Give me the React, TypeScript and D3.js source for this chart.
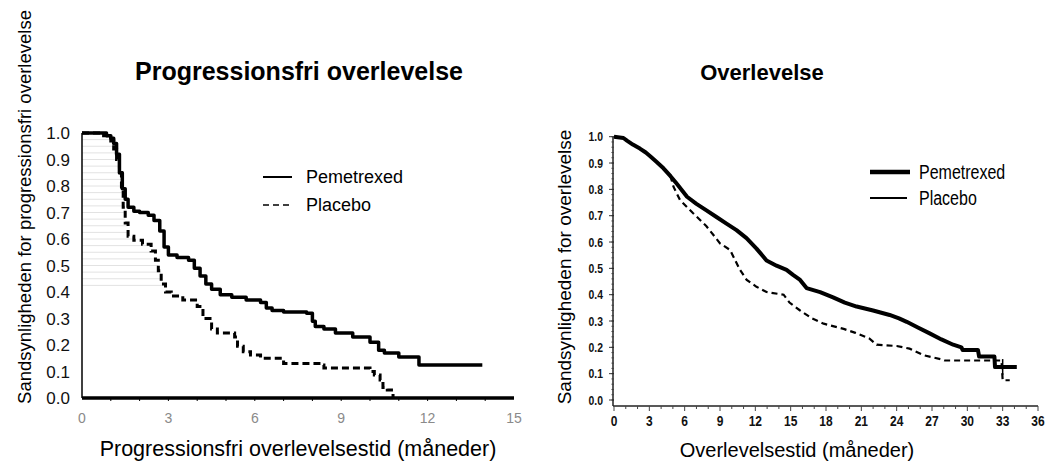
import React from 'react';
import * as d3 from 'd3';

// ---------- Data ----------
const pfsTickMonths = [0, 3, 6, 9, 12, 15];
const osTickMonths = [0, 3, 6, 9, 12, 15, 18, 21, 24, 27, 30, 33, 36];
const probTicks = [0, 0.1, 0.2, 0.3, 0.4, 0.5, 0.6, 0.7, 0.8, 0.9, 1.0];

// Progression-free survival (left panel), Kaplan-Meier steps
const pfsPemTime = [0, 0.85, 1.0, 1.1, 1.2, 1.3, 1.4, 1.5, 1.6, 1.8, 2.0, 2.3, 2.5, 2.7, 2.85, 3.0, 3.3, 3.7, 3.9, 4.1, 4.3, 4.5, 4.8, 5.2, 5.7, 6.2, 6.4, 6.6, 7.0, 7.8, 8.0, 8.1, 8.4, 8.8, 9.4, 10.0, 10.3, 10.5, 11.0, 11.7, 13.9];
const pfsPemSurv = [1.0, 0.99, 0.98, 0.96, 0.92, 0.85, 0.79, 0.75, 0.72, 0.705, 0.70, 0.69, 0.67, 0.63, 0.57, 0.54, 0.53, 0.52, 0.49, 0.46, 0.43, 0.41, 0.39, 0.38, 0.37, 0.36, 0.34, 0.33, 0.325, 0.32, 0.29, 0.27, 0.26, 0.245, 0.23, 0.21, 0.18, 0.17, 0.155, 0.125, 0.125];
const pfsPlaTime = [0, 0.75, 1.0, 1.1, 1.2, 1.3, 1.37, 1.43, 1.5, 1.6, 1.8, 2.1, 2.4, 2.55, 2.65, 2.75, 2.9, 3.1, 3.5, 4.0, 4.2, 4.5, 4.7, 5.3, 5.4, 5.6, 5.85, 6.2, 7.0, 8.3, 8.4, 10.0, 10.15, 10.35, 10.45, 10.6, 10.8];
const pfsPlaSurv = [1.0, 0.99, 0.97, 0.94, 0.90, 0.85, 0.79, 0.72, 0.66, 0.61, 0.595, 0.58, 0.555, 0.52, 0.48, 0.43, 0.40, 0.385, 0.37, 0.345, 0.30, 0.26, 0.245, 0.23, 0.195, 0.175, 0.162, 0.15, 0.13, 0.125, 0.113, 0.10, 0.087, 0.068, 0.04, 0.03, 0.0];

// Overall survival (right panel)
const osPemTime = [0, 0.8, 1.1, 1.6, 2.2, 2.7, 3.1, 3.6, 4.2, 4.8, 5.3, 5.8, 6.2, 7.0, 7.85, 8.7, 9.55, 10.4, 11.25, 12.1, 12.95, 13.8, 14.65, 15.2, 15.8, 16.35, 17.5, 18.6, 19.6, 20.6, 22.0, 23.4, 24.2, 24.85, 25.8, 26.8, 27.8, 28.8, 29.5, 29.6, 30.9, 31.0, 32.3, 32.35, 34.2];
const osPemSurv = [1.0, 0.995, 0.985, 0.97, 0.955, 0.94, 0.925, 0.905, 0.88, 0.85, 0.823, 0.795, 0.772, 0.745, 0.72, 0.695, 0.67, 0.645, 0.615, 0.575, 0.53, 0.51, 0.494, 0.475, 0.456, 0.425, 0.41, 0.39, 0.37, 0.355, 0.34, 0.323, 0.31, 0.297, 0.275, 0.253, 0.23, 0.21, 0.20, 0.19, 0.19, 0.165, 0.165, 0.125, 0.125];
const osPlaTime = [0, 0.8, 1.1, 1.6, 2.2, 2.7, 3.1, 3.6, 4.2, 4.8, 5.05, 5.6, 6.7, 7.85, 9.0, 9.85, 10.7, 11.27, 12.1, 12.95, 14.4, 14.9, 15.8, 16.8, 17.8, 19.5, 20.5, 21.7, 22.3, 24.0, 25.1, 26.3, 28.0, 28.1, 32.9, 33.0, 33.6];
const osPlaSurv = [1.0, 0.995, 0.985, 0.97, 0.955, 0.94, 0.925, 0.905, 0.88, 0.85, 0.81, 0.76, 0.71, 0.66, 0.595, 0.57, 0.494, 0.456, 0.43, 0.41, 0.40, 0.37, 0.34, 0.31, 0.29, 0.27, 0.255, 0.233, 0.21, 0.205, 0.195, 0.17, 0.152, 0.15, 0.15, 0.075, 0.075];
const osCensorMonth = 33.0;
const osCensorSurv = 0.125;

const seriesNames = ['Pemetrexed', 'Placebo'];

const zip = (t: number[], s: number[]) => t.map((v, i) => [v, s[i]] as [number, number]);

const ARIAL = "'Liberation Sans', Arial, Helvetica, sans-serif";
const NARROW_SCALE = 0.8;

export default function App() {
  const W = 1047;
  const H = 462;

  // Left panel scales
  const xL = d3.scaleLinear().domain([0, 15]).range([82, 514]);
  const yL = d3.scaleLinear().domain([0, 1]).range([398, 133]);
  // Right panel scales
  const xR = d3.scaleLinear().domain([0, 36]).range([614, 1038]);
  const yR = d3.scaleLinear().domain([0, 1]).range([400, 136.7]);
  const xAxisR = yR(0) + 6;

  const stepL = d3.line<[number, number]>().x(d => xL(d[0])).y(d => yL(d[1])).curve(d3.curveStepAfter);
  const lineR = d3.line<[number, number]>().x(d => xR(d[0])).y(d => yR(d[1])).curve(d3.curveLinear);

  const pfsPem = zip(pfsPemTime, pfsPemSurv);
  const pfsPla = zip(pfsPlaTime, pfsPlaSurv);
  const osPem = zip(osPemTime, osPemSurv);
  const osPla = zip(osPlaTime, osPlaSurv);

  // faint hatch lines at left panel (artifact of original), up to placebo curve
  const hatchLevels = d3.range(0.425, 1.0, 0.025);
  const hatch = hatchLevels.map(lv => {
    const idx = pfsPla.findIndex(d => d[1] <= lv);
    const t = idx >= 0 ? pfsPla[idx][0] : 0;
    return { lv, x2: xL(t) };
  });

  const monthsMinorL = d3.range(1, 15, 1);
  const monthsMinorR = d3.range(0, 37, 1);
  const probMinor = d3.range(0, 1.0001, 0.02);

  const narrow = (x: number, y: number) => `translate(${x},${y}) scale(${NARROW_SCALE},1)`;

  return (
    <svg width={W} height={H} style={{ position: 'absolute', left: 0, top: 0, background: '#fff' }}>
      <rect x={0} y={0} width={W} height={H} fill="#fff" />

      {/* ================= LEFT PANEL ================= */}
      <text x={299} y={80} textAnchor="middle" fontFamily={ARIAL} fontWeight="bold" fontSize={25} fill="#000">
        Progressionsfri overlevelse
      </text>

      {hatch.map((h, i) => (
        <line key={'h' + i} x1={xL(0)} x2={h.x2} y1={yL(h.lv)} y2={yL(h.lv)} stroke="#e2e2e2" strokeWidth={1} />
      ))}

      {/* y axis */}
      <line x1={xL(0)} x2={xL(0)} y1={yL(1)} y2={yL(0)} stroke="#000" strokeWidth={1.5} />
      {probTicks.map(p => (
        <text key={'yl' + p} x={70} y={yL(p)} dy="0.36em" textAnchor="end" fontFamily={ARIAL} fontSize={17} fill="#111">
          {p.toFixed(1)}
        </text>
      ))}

      {/* x axis */}
      {monthsMinorL.map(m => (
        <line key={'mt' + m} x1={xL(m)} x2={xL(m)} y1={yL(0)} y2={yL(0) + 3} stroke="#000" strokeWidth={1} />
      ))}
      <line x1={xL(0)} x2={xL(15)} y1={yL(0)} y2={yL(0)} stroke="#000" strokeWidth={3.5} />
      {pfsTickMonths.map(m => (
        <text key={'xl' + m} x={xL(m)} y={418} dy="0.36em" textAnchor="middle" fontFamily={ARIAL} fontSize={14} fill="#8a8a8a">
          {m}
        </text>
      ))}

      {/* curves */}
      <path d={stepL(pfsPla) || ''} fill="none" stroke="#000" strokeWidth={3} strokeDasharray="7,4" />
      <path d={stepL(pfsPem) || ''} fill="none" stroke="#000" strokeWidth={3.5} strokeLinejoin="round" />

      {/* legend */}
      <line x1={263} x2={292} y1={177} y2={177} stroke="#000" strokeWidth={2} />
      <text x={306} y={177} dy="0.36em" fontFamily={ARIAL} fontSize={18} fill="#000">{seriesNames[0]}</text>
      <line x1={263} x2={292} y1={205} y2={205} stroke="#000" strokeWidth={1.5} strokeDasharray="6,4" />
      <text x={306} y={205} dy="0.36em" fontFamily={ARIAL} fontSize={18} fill="#000">{seriesNames[1]}</text>

      {/* axis titles */}
      <text transform={`translate(31,${207}) rotate(-90)`} textAnchor="middle" fontFamily={ARIAL} fontSize={18.5} fill="#000">
        Sandsynligheden for progressionsfri overlevelse
      </text>
      <text x={298} y={456} textAnchor="middle" fontFamily={ARIAL} fontSize={21.5} fill="#000">
        Progressionsfri overlevelsestid (måneder)
      </text>

      {/* ================= RIGHT PANEL ================= */}
      <text x={762} y={80} textAnchor="middle" fontFamily={ARIAL} fontWeight="bold" fontSize={22} fill="#000">
        Overlevelse
      </text>

      {/* y axis */}
      {probMinor.map((p, i) => (
        <line key={'pm' + i} x1={xR(0) - 3} x2={xR(0)} y1={yR(p)} y2={yR(p)} stroke="#999" strokeWidth={1} />
      ))}
      {probTicks.map(p => (
        <line key={'pt' + p} x1={xR(0) - 5} x2={xR(0)} y1={yR(p)} y2={yR(p)} stroke="#333" strokeWidth={1} />
      ))}
      <line x1={xR(0) - 1} x2={xR(0) - 1} y1={yR(1)} y2={xAxisR} stroke="#222" strokeWidth={1.5} />
      {probTicks.map(p => (
        <text key={'yr' + p} transform={narrow(603, yR(p))} dy="0.36em" textAnchor="end" fontFamily={ARIAL} fontWeight="bold" fontSize={13} fill="#111">
          {p.toFixed(1)}
        </text>
      ))}

      {/* x axis */}
      <line x1={xR(0) - 1} x2={xR(36)} y1={xAxisR} y2={xAxisR} stroke="#222" strokeWidth={1.5} />
      {monthsMinorR.map(m => (
        <line key={'rm' + m} x1={xR(m)} x2={xR(m)} y1={xAxisR} y2={xAxisR + (m % 3 === 0 ? 5 : 3)} stroke="#444" strokeWidth={1} />
      ))}
      {osTickMonths.map(m => (
        <text key={'xr' + m} transform={narrow(xR(m), 421)} dy="0.36em" textAnchor="middle" fontFamily={ARIAL} fontWeight="bold" fontSize={15} fill="#111">
          {m}
        </text>
      ))}

      {/* curves */}
      <path d={lineR(osPla) || ''} fill="none" stroke="#000" strokeWidth={2.2} strokeDasharray="6,4" />
      <path d={lineR(osPem) || ''} fill="none" stroke="#000" strokeWidth={4} strokeLinejoin="round" />
      <line x1={xR(osCensorMonth)} x2={xR(osCensorMonth)} y1={yR(osCensorSurv) - 8} y2={yR(osCensorSurv) + 8} stroke="#000" strokeWidth={1.5} />

      {/* legend */}
      <line x1={870} x2={910} y1={172} y2={172} stroke="#000" strokeWidth={4.5} />
      <text transform={narrow(919, 172)} dy="0.36em" fontFamily={ARIAL} fontSize={20} fill="#000">{seriesNames[0]}</text>
      <line x1={870} x2={907} y1={198} y2={198} stroke="#000" strokeWidth={2} />
      <text transform={narrow(919, 198)} dy="0.36em" fontFamily={ARIAL} fontSize={20} fill="#000">{seriesNames[1]}</text>

      {/* axis titles */}
      <text transform={`translate(571,${267}) rotate(-90)`} textAnchor="middle" fontFamily={ARIAL} fontSize={19} fill="#000">
        Sandsynligheden for overlevelse
      </text>
      <text x={797} y={457} textAnchor="middle" fontFamily={ARIAL} fontSize={20} fill="#000">
        Overlevelsestid (måneder)
      </text>
    </svg>
  );
}
